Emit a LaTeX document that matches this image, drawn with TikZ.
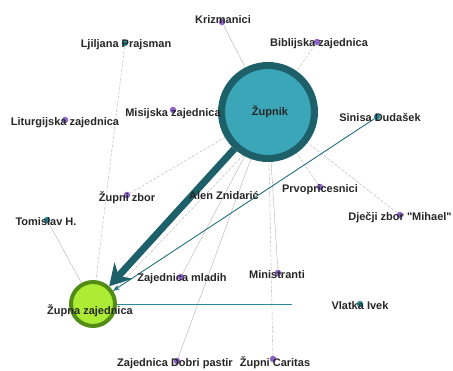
\documentclass[tikz,border=0pt]{standalone}
\usepackage{fontspec}
\setmainfont{Liberation Sans}
\usepackage{xcolor}
\usetikzlibrary{arrows.meta,backgrounds}

\definecolor{hubfill}{RGB}{58,166,184}
\definecolor{hubring}{RGB}{30,96,106}
\definecolor{grpfill}{RGB}{172,236,52}
\definecolor{grpring}{RGB}{82,140,22}
\definecolor{dotpurple}{RGB}{140,100,200}
\definecolor{dotteal}{RGB}{42,140,152}

\begin{document}
\begin{tikzpicture}[x=1pt, y=-1pt, >=Stealth,
  lbl/.style={font=\bfseries\fontsize{11}{12}\selectfont, text=black!85, inner sep=0pt},
  pdot/.style={circle, fill=dotpurple, minimum size=6.5pt, inner sep=0pt},
  tdot/.style={circle, fill=dotteal, minimum size=6.5pt, inner sep=0pt},
  edge/.style={gray!60, line width=0.4pt},
  dedge/.style={edge, dash pattern=on 3pt off 1.5pt}]

  \useasboundingbox (0,0) rectangle (453,370);

  % Central nodes
  \node[circle, draw=hubring, line width=7pt, fill=hubfill, minimum size=93pt, inner sep=0pt] (zupnik) at (268,112) {};
  \node[circle, draw=grpring, line width=4pt, fill=grpfill, minimum size=44pt, inner sep=0pt] (zupna) at (93,304) {};

  % Small nodes
  \node[pdot] (krizD) at (222,22) {};
  \node[tdot] (ljiD) at (125,43) {};
  \node[pdot] (bibD) at (317,42) {};
  \node[pdot] (misD) at (173,110) {};
  \node[pdot] (litD) at (65,120) {};
  \node[tdot] (sinD) at (377,117) {};
  \node[pdot] (zborD) at (127,195) {};
  \node[pdot] (prvoD) at (320,187) {};
  \node[pdot] (djecD) at (400,215) {};
  \node[tdot] (tomD) at (47,220) {};
  \node[pdot] (mladD) at (181,277) {};
  \node[pdot] (minD) at (278,273) {};
  \node[tdot] (vlatD) at (360,304) {};
  \node[pdot] (dobriD) at (177,361) {};
  \node[pdot] (carD) at (273,359) {};
  \coordinate (vlEnd) at (292,304);

  % Edges
  \begin{scope}[on background layer]
    \draw[edge] (krizD) -- (zupnik);
    \draw[dedge] (bibD) -- (zupnik);
    \draw[dedge] (ljiD) -- (zupna);
    \draw[dedge] (zborD) -- (zupnik);
    \draw[dedge] (prvoD) -- (zupnik);
    \draw[dedge] (djecD) -- (zupnik);
    \draw[edge] (tomD) -- (zupna);
    \draw[edge] (mladD) -- (zupnik);
    \draw[edge] (dobriD) -- (zupnik);
    \draw[edge] (minD) -- (zupnik);
    \draw[dedge] (carD) -- (zupnik);
    \draw[dotteal, line width=0.5pt] (zupna) -- (vlEnd);
    \draw[dedge] (zupnik.240) -- (zupna.32);
  \end{scope}
  \draw[->, dotteal!80!black, line width=0.9pt] (sinD) -- (zupna);
  \draw[hubring, line width=7pt, -{Stealth[length=21pt, width=24pt]}] (zupnik) -- (zupna);

  % Labels
  \node[lbl] at (270,112) {Župnik};
  \node[lbl] at (90,311) {Župna zajednica};
  \node[lbl] at (223,20) {Krizmanici};
  \node[lbl] at (126,45) {Ljiljana Prajsman};
  \node[lbl] at (319,44) {Biblijska zajednica};
  \node[lbl] at (173,114) {Misijska zajednica};
  \node[lbl] at (65,123) {Liturgijska zajednica};
  \node[lbl] at (380,117) {Sinisa Dudašek};
  \node[lbl] at (127,198) {Župni zbor};
  \node[lbl] at (224,196) {Alen Znidarić};
  \node[lbl] at (320,190) {Prvopricesnici};
  \node[lbl] at (400,218) {Dječji zbor \textquotedbl Mihael\textquotedbl};
  \node[lbl] at (46,222) {Tomislav H.};
  \node[lbl] at (182,279) {Zajednica mladih};
  \node[lbl] at (277,275) {Ministranti};
  \node[lbl] at (360,306) {Vlatka Ivek};
  \node[lbl] at (175,364) {Zajednica Dobri pastir};
  \node[lbl] at (275,363) {Župni Caritas};
\end{tikzpicture}
\end{document}
